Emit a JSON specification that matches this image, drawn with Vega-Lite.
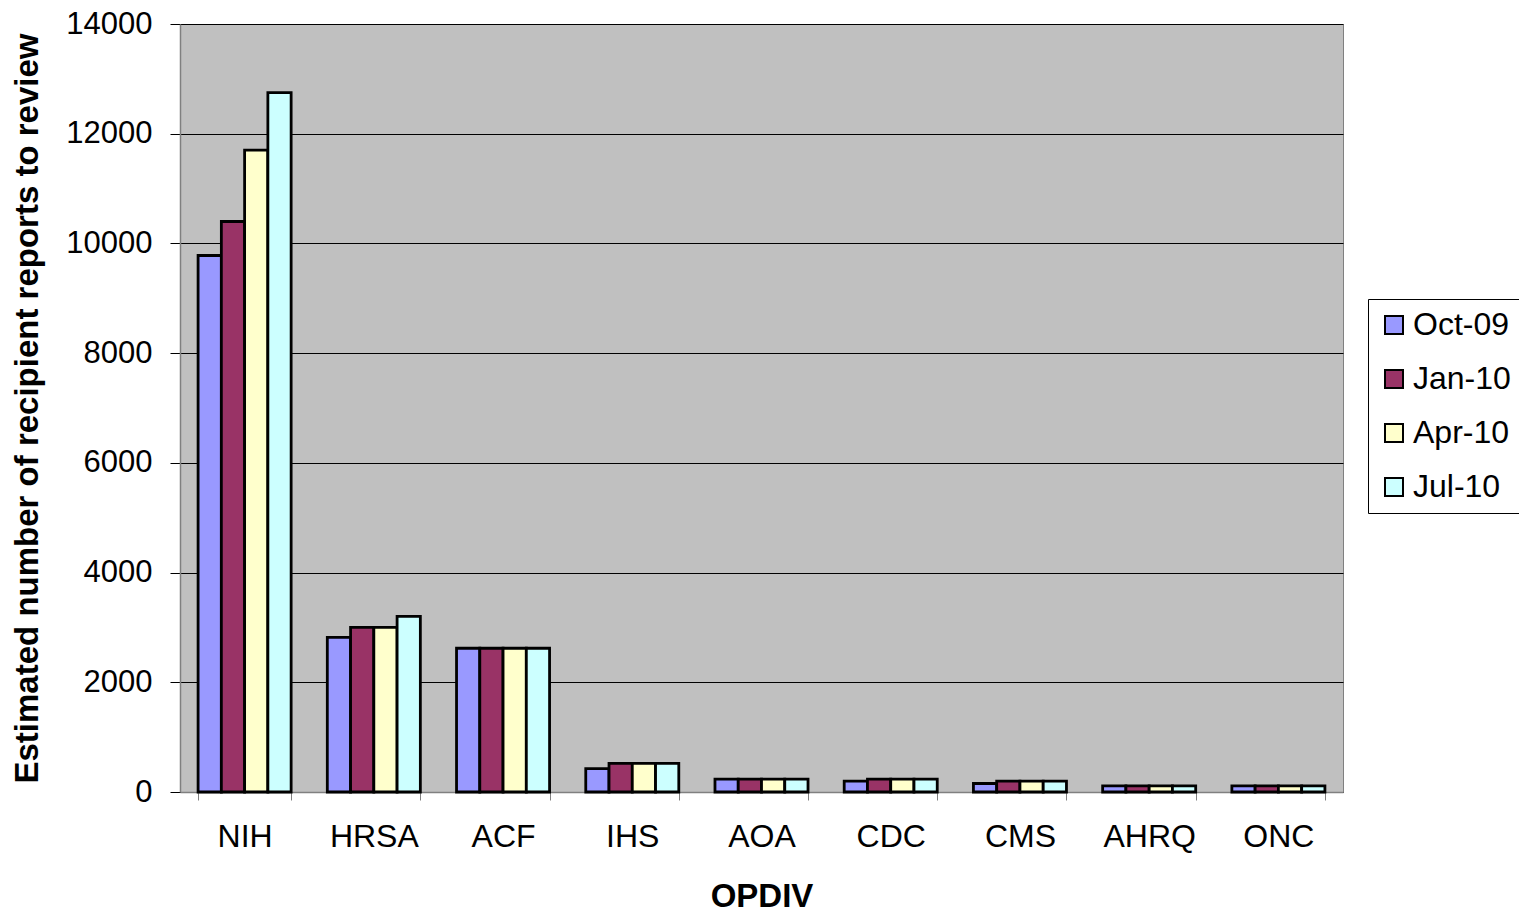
{
  "$schema": "https://vega.github.io/schema/vega-lite/v6.json",
  "autosize": {"type": "none"},
  "width": 1163,
  "height": 768,
  "padding": {"left": 180, "top": 24, "right": 176, "bottom": 121},
  "background": "#FFFFFF",
  "config": {
    "font": "Liberation Sans",
    "view": {"fill": "#C0C0C0", "stroke": "#808080", "strokeWidth": 1},
    "axis": {
      "labelFont": "Liberation Sans",
      "titleFont": "Liberation Sans",
      "labelColor": "#000000",
      "titleColor": "#000000"
    }
  },
  "data": {
    "values": [
      {"opdiv": "NIH", "period": "Oct-09", "reports": 9780},
      {"opdiv": "NIH", "period": "Jan-10", "reports": 10400},
      {"opdiv": "NIH", "period": "Apr-10", "reports": 11700},
      {"opdiv": "NIH", "period": "Jul-10", "reports": 12750},
      {"opdiv": "HRSA", "period": "Oct-09", "reports": 2820},
      {"opdiv": "HRSA", "period": "Jan-10", "reports": 3000},
      {"opdiv": "HRSA", "period": "Apr-10", "reports": 3000},
      {"opdiv": "HRSA", "period": "Jul-10", "reports": 3200},
      {"opdiv": "ACF", "period": "Oct-09", "reports": 2620},
      {"opdiv": "ACF", "period": "Jan-10", "reports": 2620},
      {"opdiv": "ACF", "period": "Apr-10", "reports": 2620},
      {"opdiv": "ACF", "period": "Jul-10", "reports": 2620},
      {"opdiv": "IHS", "period": "Oct-09", "reports": 425},
      {"opdiv": "IHS", "period": "Jan-10", "reports": 520},
      {"opdiv": "IHS", "period": "Apr-10", "reports": 520},
      {"opdiv": "IHS", "period": "Jul-10", "reports": 520},
      {"opdiv": "AOA", "period": "Oct-09", "reports": 235},
      {"opdiv": "AOA", "period": "Jan-10", "reports": 235},
      {"opdiv": "AOA", "period": "Apr-10", "reports": 235},
      {"opdiv": "AOA", "period": "Jul-10", "reports": 235},
      {"opdiv": "CDC", "period": "Oct-09", "reports": 200},
      {"opdiv": "CDC", "period": "Jan-10", "reports": 235},
      {"opdiv": "CDC", "period": "Apr-10", "reports": 235},
      {"opdiv": "CDC", "period": "Jul-10", "reports": 235},
      {"opdiv": "CMS", "period": "Oct-09", "reports": 155},
      {"opdiv": "CMS", "period": "Jan-10", "reports": 200},
      {"opdiv": "CMS", "period": "Apr-10", "reports": 200},
      {"opdiv": "CMS", "period": "Jul-10", "reports": 200},
      {"opdiv": "AHRQ", "period": "Oct-09", "reports": 110},
      {"opdiv": "AHRQ", "period": "Jan-10", "reports": 110},
      {"opdiv": "AHRQ", "period": "Apr-10", "reports": 110},
      {"opdiv": "AHRQ", "period": "Jul-10", "reports": 110},
      {"opdiv": "ONC", "period": "Oct-09", "reports": 110},
      {"opdiv": "ONC", "period": "Jan-10", "reports": 110},
      {"opdiv": "ONC", "period": "Apr-10", "reports": 110},
      {"opdiv": "ONC", "period": "Jul-10", "reports": 110}
    ]
  },
  "mark": {"type": "bar", "stroke": "#000000", "strokeWidth": 2.8, "opacity": 1},
  "encoding": {
    "x": {
      "field": "opdiv",
      "type": "nominal",
      "sort": ["NIH", "HRSA", "ACF", "IHS", "AOA", "CDC", "CMS", "AHRQ", "ONC"],
      "scale": {"paddingInner": 0.28, "paddingOuter": 0.14},
      "axis": {
        "title": "OPDIV",
        "titleFontSize": 33,
        "titleFontWeight": "bold",
        "titlePadding": 28,
        "labelAngle": 0,
        "labelFontSize": 32,
        "labelPadding": 21,
        "tickBand": "extent",
        "tickSize": 8,
        "tickColor": "#808080",
        "domainColor": "#808080",
        "domainWidth": 1.5
      }
    },
    "xOffset": {
      "field": "period",
      "type": "nominal",
      "sort": ["Oct-09", "Jan-10", "Apr-10", "Jul-10"],
      "scale": {"paddingInner": 0, "paddingOuter": 0}
    },
    "y": {
      "field": "reports",
      "type": "quantitative",
      "scale": {"domain": [0, 14000], "nice": false},
      "axis": {
        "title": "Estimated number of recipient reports to review",
        "titleFontSize": 33,
        "titleFontWeight": "bold",
        "titlePadding": 21,
        "values": [0, 2000, 4000, 6000, 8000, 10000, 12000, 14000],
        "format": "d",
        "labelFontSize": 31,
        "labelPadding": 18,
        "tickSize": 10,
        "tickColor": "#000000",
        "grid": true,
        "gridColor": "#000000",
        "gridWidth": 1,
        "domainColor": "#808080",
        "domainWidth": 1.5
      }
    },
    "color": {
      "field": "period",
      "type": "nominal",
      "sort": ["Oct-09", "Jan-10", "Apr-10", "Jul-10"],
      "scale": {
        "domain": ["Oct-09", "Jan-10", "Apr-10", "Jul-10"],
        "range": ["#9999FF", "#993366", "#FFFFCC", "#CCFFFF"]
      },
      "legend": {
        "title": null,
        "orient": "none",
        "legendX": 1188,
        "legendY": 275,
        "symbolType": "square",
        "symbolSize": 324,
        "symbolStrokeColor": "#000000",
        "symbolStrokeWidth": 2,
        "symbolOpacity": 1,
        "labelFontSize": 32,
        "labelFont": "Liberation Sans",
        "labelColor": "#000000",
        "labelOffset": 3,
        "rowPadding": 22,
        "padding": 10,
        "strokeColor": "#000000",
        "fillColor": "#FFFFFF"
      }
    }
  }
}
